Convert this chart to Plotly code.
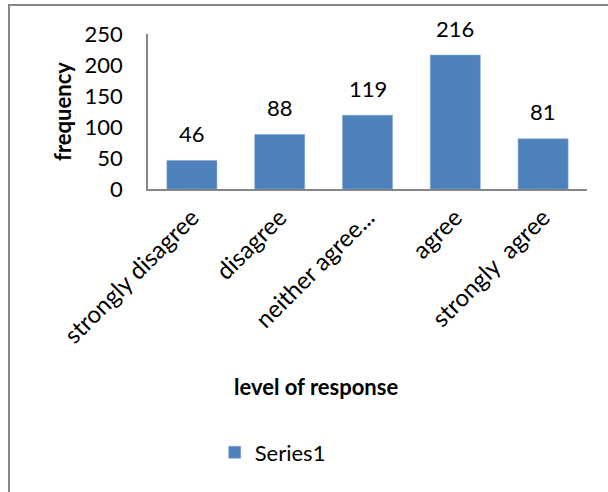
import plotly.graph_objects as go

categories = ["strongly disagree", "disagree", "neither agree...", "agree", "strongly  agree"]
values = [46, 88, 119, 216, 81]
series_name = "Series1"
y_ticks = [0, 50, 100, 150, 200, 250]

FONT = "Lato"
BAR = "#4F81BD"

fig = go.Figure()
fig.add_trace(go.Bar(
    x=categories, y=values, name=series_name,
    marker=dict(color=BAR, line=dict(color="#7FA6D6", width=0.5)),
    showlegend=True,
))

for c, v in zip(categories, values):
    fig.add_annotation(x=c, y=v, text=str(v), showarrow=False,
                       yanchor="middle", yshift=27,
                       font=dict(family=FONT, size=22, color="black"))

fig.add_annotation(xref="paper", yref="paper", x=0.383, y=-1.277,
                   text="<b>level of response</b>", showarrow=False,
                   xanchor="center", yanchor="middle",
                   font=dict(family=FONT, size=22, color="black"))

fig.add_shape(type="rect", xref="paper", yref="paper",
              x0=-0.3166, x1=1.1, y0=-2.1, y1=1.187,
              line=dict(color="#868686", width=2), layer="below")

fig.update_layout(
    width=608, height=492,
    margin=dict(l=148, r=21, t=34, b=303),
    paper_bgcolor="white", plot_bgcolor="white",
    bargap=0.43,
    font=dict(family=FONT, size=22, color="black"),
    showlegend=True,
    legend=dict(x=0.152, y=-1.70, xanchor="left", yanchor="middle",
                font=dict(family=FONT, size=22, color="black"),
                itemwidth=30, bgcolor="rgba(0,0,0,0)"),
    xaxis=dict(tickangle=-45, showline=True, linecolor="#868686", linewidth=2,
               ticks="", showgrid=False, tickfont=dict(family=FONT, size=24),
               ticklabelstandoff=3),
    yaxis=dict(range=[0, 250], tickvals=y_ticks, showline=True, linecolor="#868686",
               linewidth=1.5, ticks="", showgrid=False, zeroline=False,
               tickfont=dict(family=FONT, size=22), ticklabelstandoff=19,
               title=dict(text="<b>frequency</b>", standoff=7,
                          font=dict(family=FONT, size=22))),
)

fig.write_html("out.html", config={"displayModeBar": False},
               post_script="document.body.style.margin='0';")
